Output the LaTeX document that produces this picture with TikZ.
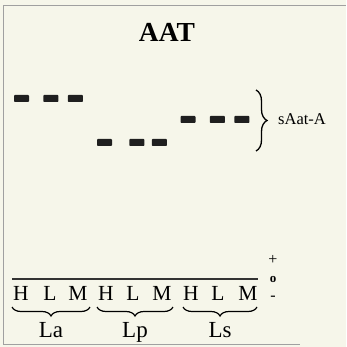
\documentclass[tikz,border=0pt]{standalone}
\usepackage{fontspec}
\setmainfont{Liberation Serif}
\usetikzlibrary{positioning,decorations.pathreplacing}
\definecolor{paper}{RGB}{246,246,234}
\definecolor{rim}{RGB}{160,160,160}
\tikzset{
  band/.style={rectangle,fill=black!88,rounded corners=0.8pt,minimum width=15pt,minimum height=7pt,inner sep=0pt},
  lane/.style={font=\fontsize{21.5}{24}\selectfont,anchor=base,inner sep=0pt},
  grp/.style={font=\fontsize{23}{26}\selectfont,anchor=base,inner sep=0pt},
  chg/.style={font=\fontsize{16}{18}\selectfont,inner sep=0pt},
  sidebrc/.style={decorate,decoration={brace,amplitude=#1},line width=1.3pt},
  grpbrc/.style={decorate,decoration={brace,mirror,amplitude=#1},line width=1.2pt}
}

\begin{document}
\begin{tikzpicture}[x=1pt,y=-1pt]
  \fill[paper] (0,0) rectangle (346,347);
  \useasboundingbox (0,0) rectangle (346,347);
  \draw[rim,line width=0.8pt] (346,5) -- (3,5) -- (3,344) -- (300,344);

  \node[font=\fontsize{27.5}{32}\selectfont\bfseries,anchor=base] (ttl) at (167,42) {AAT};

  % La
  \node[band] (la1) at (21.5,98.5) {};
  \node[band,right=14pt of la1] (la2) {};
  \node[band,right=9pt of la2] (la3) {};
  % Lp
  \node[band] (lp1) at (104.5,142.5) {};
  \node[band,right=17pt of lp1] (lp2) {};
  \node[band,right=7pt of lp2] (lp3) {};
  % Ls
  \node[band] (ls1) at (188,119.5) {};
  \node[band,right=14pt of ls1] (ls2) {};
  \node[band,right=9pt of ls2] (ls3) {};

  \coordinate (bt) at (256,90);
  \coordinate (bb) at (256,151);
  \draw[sidebrc=11] (bt) -- (bb);
  \node[font=\fontsize{16.5}{18}\selectfont,anchor=west,inner sep=0pt] (allele) at (278,119.5) {sAat-A};

  % origin and charge
  \coordinate (ol) at (12,279);
  \coordinate (or) at (258,279);
  \draw[black!80,line width=1.1pt] (ol) -- (or);
  \node[chg] (plus) at (273,260) {+};
  \node[chg,font=\fontsize{13}{15}\selectfont\bfseries] (orig) at (273,279) {o};
  \node[chg] (minus) at (273,298) {-};

  \foreach \x/\t [count=\i] in {21/H,50/L,78/M,106/H,133/L,162/M,191/H,218/L,248/M}
    \node[lane] (s\i) at (\x,300) {\t};

  \foreach \a/\b/\g [count=\i] in {12/90/La,97/173/Lp,183/257/Ls}{
    \coordinate (g\i a) at (\a,307);
    \coordinate (g\i b) at (\b,307);
    \draw[grpbrc=9] (g\i a) -- (g\i b);
    \node[grp] (g\i) at ({(\a+\b)/2},337) {\g};
  }
\end{tikzpicture}
\end{document}
